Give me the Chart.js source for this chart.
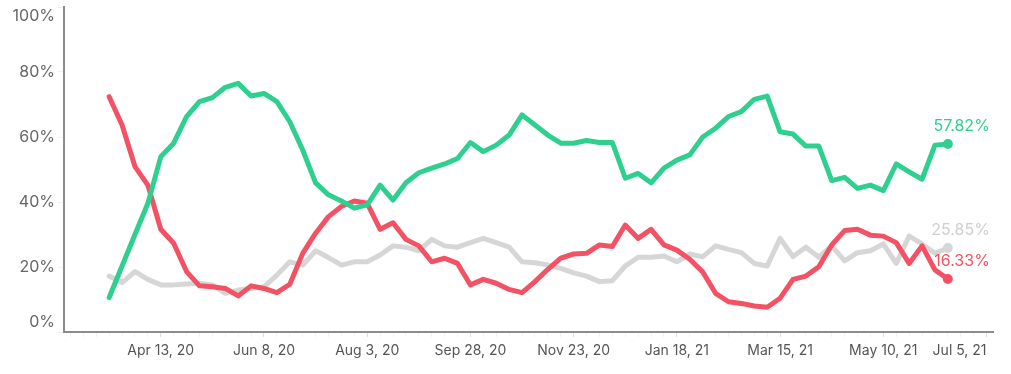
<!DOCTYPE html>
<html>
<head>
    <title>Weekly share</title>
    <style>
        body, html {
            margin: 0;
            background-color: #fff;
        }
        #wrap {
            width: 1011px;
            height: 374px;
        }
    </style>
</head>
<body>
    <div id="wrap"><canvas id="myChart"></canvas></div>
    <script src="https://cdn.jsdelivr.net/npm/chart.js"></script>
    <script>
        // one value per week, week 0 = Mar 16, 20
        const greenValues = [
            10.6, 20.3, 30.0, 39.6, 53.9, 58.1, 66.3, 70.9, 72.1, 75.3,
            76.5, 72.6, 73.4, 70.9, 64.7, 56.0, 45.9, 42.2, 40.3, 38.1,
            39.1, 45.2, 40.6, 45.9, 49.0, 50.4, 51.7, 53.4, 58.3, 55.5,
            57.5, 60.6, 66.8, 63.7, 60.6, 58.1, 58.1, 58.9, 58.3, 58.3,
            47.3, 48.8, 45.9, 50.4, 52.9, 54.5, 60.0, 62.7, 66.3, 67.8,
            71.6, 72.6, 61.6, 60.9, 57.2, 57.2, 46.6, 47.6, 44.2, 45.2,
            43.5, 51.7, 49.3, 47.0, 57.5, 57.82
        ];
        const redValues = [
            72.4, 63.7, 50.9, 45.2, 31.6, 27.3, 18.6, 14.2, 13.9, 13.4,
            11.1, 14.2, 13.4, 12.1, 14.7, 24.2, 30.4, 35.5, 38.6, 40.3,
            39.6, 31.6, 33.6, 28.5, 26.5, 21.6, 22.7, 21.1, 14.5, 16.2,
            15.0, 13.1, 12.1, 15.5, 19.3, 22.7, 24.0, 24.2, 26.8, 26.3,
            32.9, 28.8, 31.6, 26.8, 25.2, 22.4, 18.5, 11.9, 9.3, 8.8,
            8.0, 7.6, 10.4, 16.2, 17.2, 20.1, 26.8, 31.2, 31.6, 29.8,
            29.5, 27.5, 21.1, 26.5, 19.1, 16.33
        ];
        const grayValues = [
            17.2, 15.2, 18.6, 16.2, 14.5, 14.5, 14.8, 15.0, 14.5, 11.9,
            12.9, 13.4, 13.9, 17.5, 21.6, 20.6, 25.0, 22.9, 20.6, 21.6,
            21.6, 23.7, 26.5, 26.1, 25.0, 28.5, 26.5, 26.1, 27.5, 28.8,
            27.5, 26.1, 21.6, 21.3, 20.6, 19.6, 18.2, 17.2, 15.5, 15.8,
            20.3, 23.0, 23.0, 23.4, 21.6, 24.0, 23.1, 26.5, 25.4, 24.4,
            21.1, 20.3, 28.8, 23.2, 26.1, 23.0, 26.5, 21.9, 24.4, 25.0,
            27.1, 21.1, 29.5, 27.1, 24.2, 25.85
        ];
        const tickWeeks = [4, 12, 20, 28, 36, 44, 52, 60, 68];
        const tickLabels = ['Apr 13, 20', 'Jun 8, 20', 'Aug 3, 20', 'Sep 28, 20', 'Nov 23, 20',
                            'Jan 18, 21', 'Mar 15, 21', 'May 10, 21', 'Jul 5, 21'];

        const GREEN = '#2ecf8f';
        const RED = '#f25264';
        const GRAY = '#d6d6d6';

        function series(values) {
            return values.map((v, i) => ({ x: i, y: v }));
        }

        function lineSet(label, values, color) {
            return {
                label: label,
                data: series(values),
                borderColor: color,
                backgroundColor: color,
                borderWidth: 5,
                borderJoinStyle: 'round',
                borderCapStyle: 'round',
                tension: 0,
                pointRadius: ctx => ctx.dataIndex === values.length - 1 ? 5 : 0,
                pointBorderWidth: 0,
                pointHoverRadius: 0
            };
        }

        const endLabels = {
            id: 'endLabels',
            afterDatasetsDraw(chart) {
                const ctx = chart.ctx;
                ctx.save();
                ctx.font = '16px Inter';
                ctx.textAlign = 'right';
                ctx.textBaseline = 'middle';
                chart.data.datasets.forEach((ds, i) => {
                    const meta = chart.getDatasetMeta(i);
                    const pt = meta.data[meta.data.length - 1];
                    const v = ds.data[ds.data.length - 1].y;
                    ctx.fillStyle = ds.labelColor;
                    ctx.fillText(v.toFixed(2) + '%', pt.x + 42, pt.y - 18);
                });
                ctx.restore();
            }
        };

        const green = lineSet('Green', greenValues, GREEN);
        const red = lineSet('Red', redValues, RED);
        const gray = lineSet('Gray', grayValues, GRAY);
        green.labelColor = GREEN;
        red.labelColor = RED;
        gray.labelColor = '#cfcfcf';

        new Chart(document.getElementById('myChart').getContext('2d'), {
            type: 'line',
            data: { datasets: [green, red, gray] },
            options: {
                responsive: true,
                maintainAspectRatio: false,
                animation: false,
                events: [],
                layout: { padding: { top: 7, right: 18, left: 0, bottom: 0 } },
                plugins: {
                    legend: { display: false },
                    tooltip: { enabled: false }
                },
                scales: {
                    x: {
                        type: 'linear',
                        min: -3.5,
                        max: 68.5,
                        afterBuildTicks: scale => {
                            const t = [];
                            for (let w = -3; w <= 68; w++) t.push({ value: w });
                            scale.ticks = t;
                        },
                        afterFit: scale => {
                            scale.height = 42;
                            scale.paddingLeft = 0;
                            scale.paddingRight = 0;
                        },
                        border: { color: '#8c8c8c', width: 2 },
                        grid: {
                            drawOnChartArea: false,
                            tickLength: 5,
                            tickColor: ctx => tickWeeks.includes(ctx.tick.value) ? '#dedede' : '#f2f2f2'
                        },
                        ticks: {
                            autoSkip: false,
                            maxRotation: 0,
                            align: 'inner',
                            padding: 5,
                            color: '#555',
                            font: { family: 'Inter', size: 14 },
                            callback: v => {
                                const k = tickWeeks.indexOf(v);
                                return k >= 0 ? tickLabels[k] : '';
                            }
                        }
                    },
                    y: {
                        min: 0,
                        max: 100,
                        afterFit: scale => {
                            scale.width = 64;
                            scale.paddingTop = 0;
                            scale.paddingBottom = 0;
                        },
                        border: { color: '#8c8c8c', width: 2 },
                        grid: {
                            drawOnChartArea: false,
                            tickLength: 6,
                            tickColor: '#f0f0f0'
                        },
                        ticks: {
                            stepSize: 20,
                            padding: 3,
                            color: '#666',
                            font: { family: 'Inter', size: 16 },
                            callback: v => {
                                if (v === 100) return ['', v + '%'];
                                if (v === 0) return [v + '%', ''];
                                return v + '%';
                            }
                        }
                    }
                }
            },
            plugins: [endLabels]
        });
    </script>
</body>
</html>
